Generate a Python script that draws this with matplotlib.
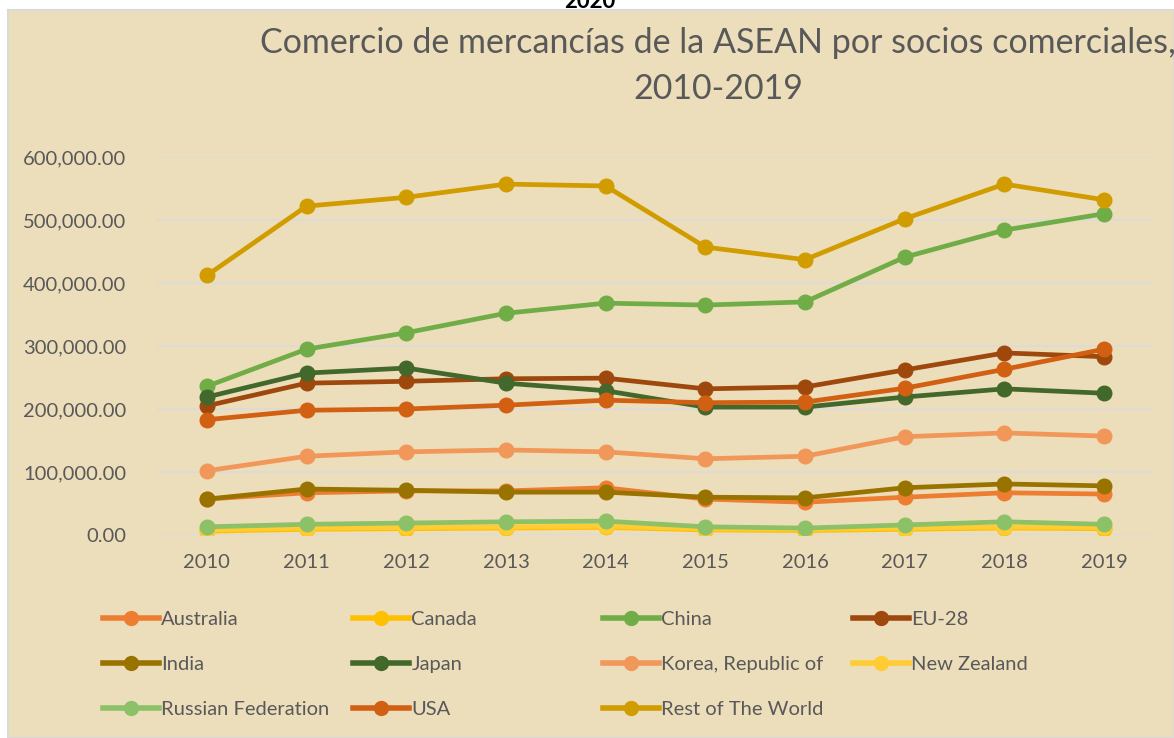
import numpy as np
import matplotlib.pyplot as plt
from matplotlib.patches import Rectangle
from matplotlib.lines import Line2D
from matplotlib.ticker import FuncFormatter

# Data
years = [2010, 2011, 2012, 2013, 2014, 2015, 2016, 2017, 2018, 2019]
australia = [57000, 67000, 70000, 70000, 75000, 57000, 52000, 60000, 67000, 65000]
canada = [6000, 9000, 10000, 11000, 12000, 8000, 7000, 9000, 11000, 10000]
china = [236000, 295000, 321000, 352000, 368000, 365000, 370000, 441000, 484000, 510000]
eu28 = [205000, 241000, 244000, 248000, 249000, 232000, 235000, 262000, 289000, 283000]
india = [57000, 73000, 71000, 68000, 68000, 60000, 59000, 75000, 81000, 78000]
japan = [219000, 257000, 265000, 241000, 229000, 203000, 203000, 219000, 232000, 225000]
korea = [102000, 125000, 132000, 135000, 132000, 121000, 125000, 156000, 162000, 157000]
new_zealand = [8000, 11000, 12000, 13000, 14000, 10000, 9000, 11000, 13000, 12000]
russia = [13000, 17000, 19000, 21000, 22000, 13000, 11000, 16000, 21000, 17000]
usa = [183000, 198000, 200000, 206000, 214000, 210000, 211000, 233000, 263000, 295000]
rest = [412000, 522000, 536000, 557000, 554000, 457000, 437000, 502000, 557000, 532000]

names = ['Australia', 'Canada', 'China', 'EU-28', 'India', 'Japan',
         'Korea, Republic of', 'New Zealand', 'Russian Federation', 'USA',
         'Rest of The World']
series = [australia, canada, china, eu28, india, japan, korea, new_zealand,
          russia, usa, rest]
colors = ['#ED7D31', '#FFC000', '#70AD47', '#9E480E', '#997300', '#43682B',
          '#F1975A', '#FFCD33', '#8CC168', '#D26012', '#D09C00']

plt.rcParams['font.family'] = ['Lato', 'DejaVu Sans']
txt_color = '#595959'

W, H = 1174, 738
fig = plt.figure(figsize=(W / 100, H / 100), dpi=100, facecolor='white')

# parchment-like chart area
fig.patches.append(Rectangle((8 / W, 0), 1 - 8 / W, (H - 10) / H,
                             transform=fig.transFigure, facecolor='#EDDEBB',
                             edgecolor='#D9D9D9', linewidth=1.5, zorder=-5))

# cut-off text at the very top
fig.text(590 / W, 1 - 1 / H, '2020', ha='center', va='center', fontsize=16,
         fontweight='bold', color='black')

ax = fig.add_axes([157 / W, (H - 535) / H, (1154 - 157) / W, (535 - 157) / H])
ax.set_facecolor('none')
ax.set_zorder(2)

x = np.arange(len(years))
for s, c, n in zip(series, colors, names):
    ax.plot(x, s, color=c, linewidth=3.4, marker='o', markersize=10.5, label=n,
            solid_capstyle='round')

ax.set_xlim(-0.5, len(years) - 0.5)
ax.set_ylim(0, 600000)
ax.set_yticks(np.arange(0, 600001, 100000))
ax.yaxis.set_major_formatter(FuncFormatter(lambda v, p: f'{v:,.2f}'))
ax.set_xticks(x)
ax.set_xticklabels([str(y) for y in years])
ax.tick_params(length=0, labelsize=14.5, colors=txt_color)
ax.tick_params(axis='y', pad=22)
ax.tick_params(axis='x', pad=14)
ax.grid(axis='y', color='#DEDBD6', linewidth=1.5)
ax.set_axisbelow(True)
for sp in ax.spines.values():
    sp.set_visible(False)

# title
fig.text(718 / W, 1 - 66 / H, 'Comercio de mercancías de la ASEAN por socios comerciales,\n2010-2019',
         ha='center', va='center', fontsize=24.5, color=txt_color, linespacing=1.55)

# legend, one block per column
cols_x = [103, 353, 603, 853]
for ci, cx in enumerate(cols_x):
    idx = list(range(ci, len(names), 4))
    hs = [Line2D([0], [0], color=colors[i], linewidth=4, marker='o',
                 markersize=10) for i in idx]
    fig.legend(hs, [names[i] for i in idx], loc='upper left',
               bbox_to_anchor=(cx / W, 1 - 611 / H), frameon=False,
               fontsize=14.5, labelcolor=txt_color, handlelength=2.8,
               handletextpad=0.1, labelspacing=1.38, borderpad=0,
               borderaxespad=0)

fig.savefig('out.png', dpi=100, facecolor=fig.get_facecolor())
